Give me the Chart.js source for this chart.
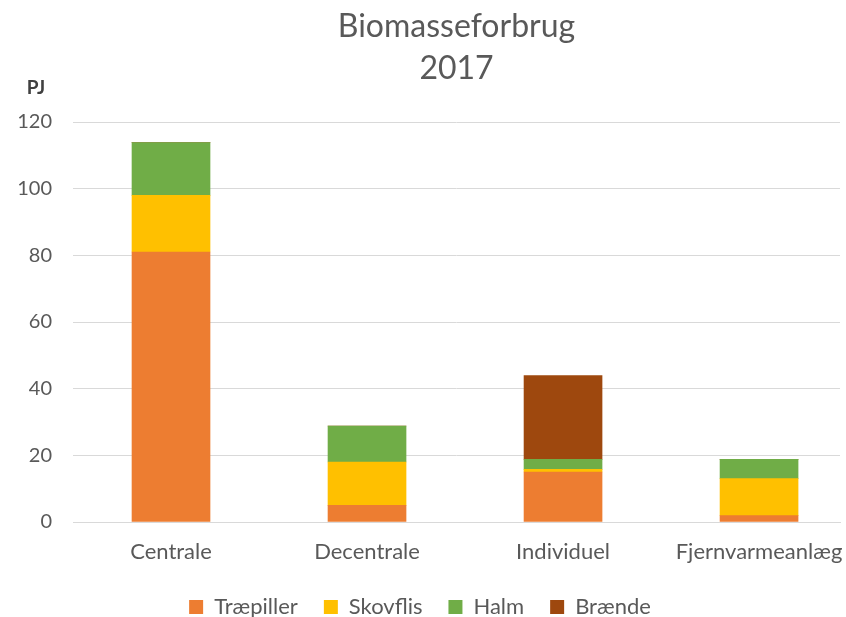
<!DOCTYPE html>
<html>
<head>
<meta charset="utf-8">
<script src="https://cdn.jsdelivr.net/npm/chart.js@4.4.0/dist/chart.umd.min.js"></script>
<style>
    html, body { margin: 0; padding: 0; background: #fff; }
    #wrap { width: 846px; height: 617px; position: relative; }
</style>
</head>
<body>
<div id="wrap"><canvas id="biomasse-chart"></canvas></div>
<script>
// Data (PJ)
const categories = ['Centrale', 'Decentrale', 'Individuel', 'Fjernvarmeanlæg'];
const traepiller = [81, 5, 15, 1.9];
const skovflis = [17, 13, 0.8, 11.1];
const halm = [15.8, 10.8, 3, 5.8];
const braende = [0, 0, 25.1, 0];
const yTicks = [0, 20, 40, 60, 80, 100, 120];

const textColor = '#595959';
const fontFamily = 'Lato, "Open Sans", sans-serif';

function toPoints(values) {
    return values.map((v, i) => ({ x: i, y: v }));
}

// title and axis unit drawn above the plot
const headerPlugin = {
    id: 'header',
    afterDraw(chart) {
        const { ctx, chartArea } = chart;
        const cx = (chartArea.left + chartArea.right) / 2;
        ctx.save();
        ctx.fillStyle = textColor;
        ctx.textAlign = 'center';
        ctx.textBaseline = 'middle';
        ctx.font = '32px ' + fontFamily;
        ctx.fillText('Biomasseforbrug', cx, 27);
        ctx.fillText('2017', cx, 69);
        ctx.font = 'bold 19px ' + fontFamily;
        ctx.fillStyle = '#404040';
        ctx.fillText('PJ', 36, 88);
        ctx.restore();
    }
};

const ctx = document.getElementById('biomasse-chart');

new Chart(ctx, {
    type: 'bar',
    data: {
        datasets: [{
            label: 'Træpiller',
            data: toPoints(traepiller),
            backgroundColor: '#ED7D31'
        }, {
            label: 'Skovflis',
            data: toPoints(skovflis),
            backgroundColor: '#FFC000'
        }, {
            label: 'Halm',
            data: toPoints(halm),
            backgroundColor: '#70AD47'
        }, {
            label: 'Brænde',
            data: toPoints(braende),
            backgroundColor: '#9E480E'
        }]
    },
    options: {
        responsive: true,
        maintainAspectRatio: false,
        animation: false,
        barThickness: 78,
        layout: {
            padding: { top: 122, right: 6, bottom: -11, left: 0 }
        },
        plugins: {
            title: { display: false },
            tooltip: { enabled: false },
            legend: {
                position: 'bottom',
                labels: {
                    color: textColor,
                    boxWidth: 14,
                    boxHeight: 14,
                    padding: 26,
                    font: { family: fontFamily, size: 22 }
                }
            }
        },
        scales: {
            x: {
                type: 'linear',
                stacked: true,
                offset: false,
                min: -0.5,
                max: 3.413,
                afterBuildTicks: s => { s.ticks = categories.map((c, i) => ({ value: i })); },
                afterFit: s => {
                    s.height = 48;
                    s.paddingLeft = 0;
                    s.paddingRight = 0;
                },
                grid: { display: false },
                border: { display: true, color: '#d9d9d9' },
                ticks: {
                    color: textColor,
                    padding: 9,
                    maxRotation: 0,
                    font: { family: fontFamily, size: 22 },
                    callback: v => categories[v]
                }
            },
            y: {
                stacked: true,
                min: 0,
                max: 120,
                afterBuildTicks: s => { s.ticks = yTicks.map(v => ({ value: v })); },
                afterFit: s => { s.width = 73; },
                grid: { color: '#d9d9d9', drawTicks: false },
                border: { display: false },
                ticks: {
                    color: textColor,
                    padding: 21,
                    font: { family: fontFamily, size: 20 }
                }
            }
        }
    },
    plugins: [headerPlugin]
});
</script>
</body>
</html>
